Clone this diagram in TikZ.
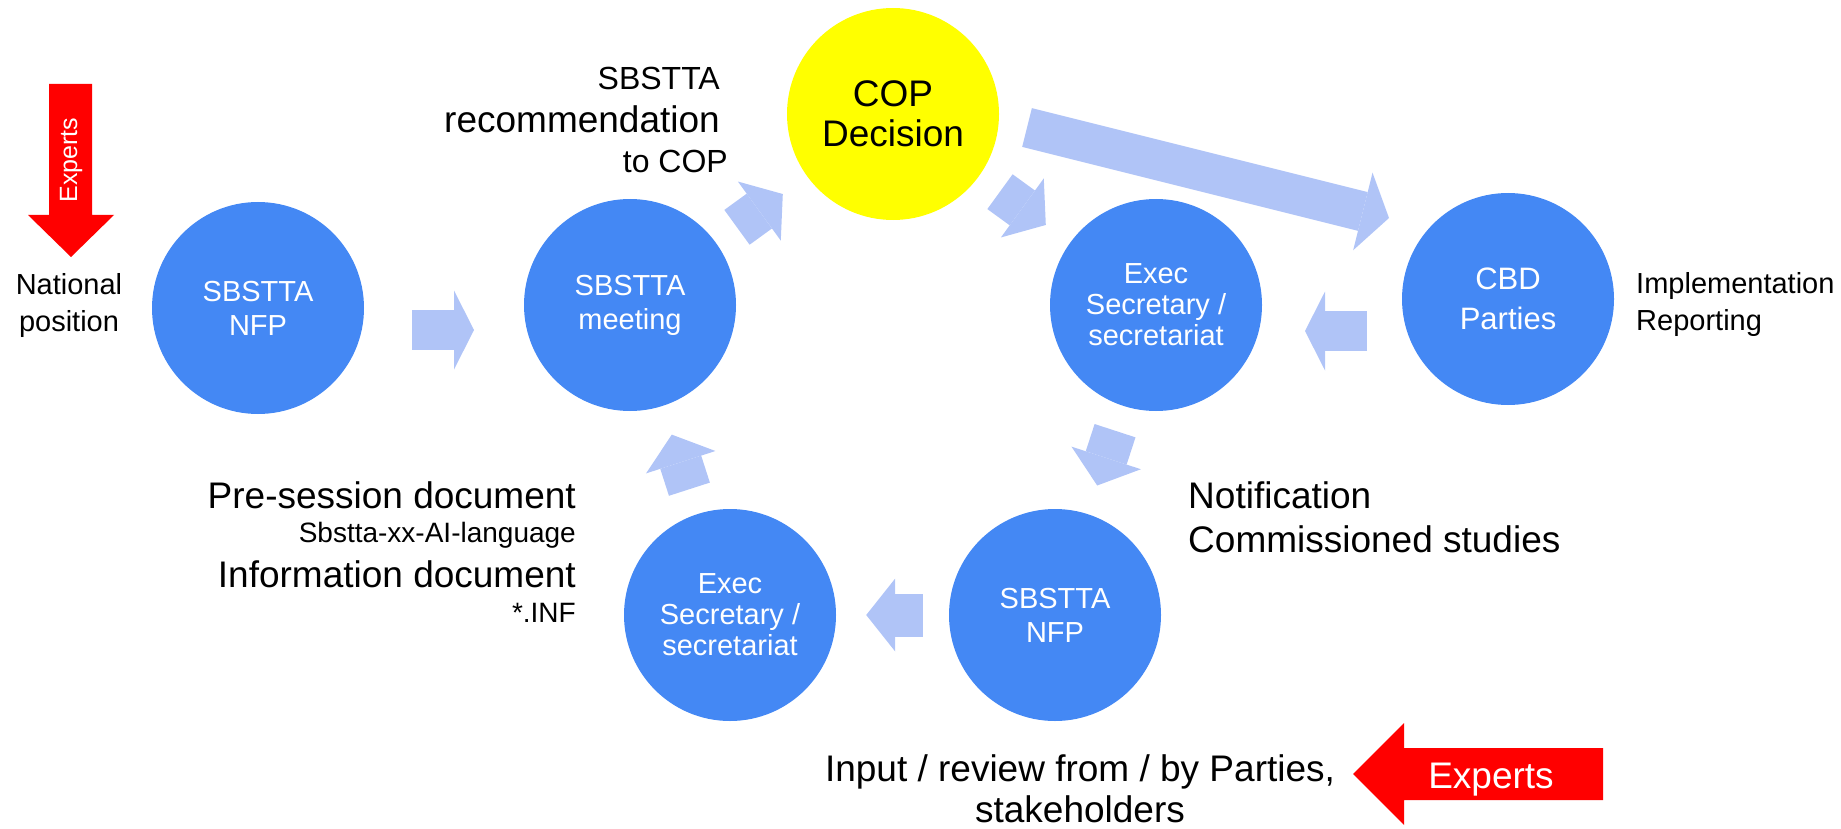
\documentclass[tikz,border=0pt]{standalone}
\usepackage{fontspec}
\setmainfont{Liberation Sans}
\usetikzlibrary{arrows.meta}

\definecolor{bodyblue}{RGB}{68,136,244}
\definecolor{flowblue}{RGB}{176,196,247}
\definecolor{copyellow}{RGB}{255,255,0}

\tikzset{
    body/.style={circle, fill=bodyblue, minimum size=212pt, inner sep=0pt,
        text=white, align=center, font=\fontsize{29}{34}\selectfont},
    flow/.style={draw=flowblue, line width=43pt,
        -{Triangle[length=29pt, width=73pt, line width=0pt]},
        shorten <=26pt, shorten >=30pt},
    sideflow/.style={draw=flowblue, line width=40pt,
        -{Triangle[length=20pt, width=79pt, line width=0pt]}},
    bigflow/.style={draw=flowblue, line width=40pt,
        -{Triangle[length=27pt, width=80pt, line width=0pt]}},
    bigtxt/.style={font=\fontsize{37}{44}\selectfont},
    midtxt/.style={font=\fontsize{32}{40}\selectfont},
    smalltxt/.style={font=\fontsize{28}{34}\selectfont},
    sidetxt/.style={font=\fontsize{29}{37}\selectfont},
}

\begin{document}
\begin{tikzpicture}[x=1pt, y=-1pt]
    \useasboundingbox (0,0) rectangle (1841,829);

    % Circles
    \node[body] (nfp1) at (258,308) {SBSTTA\\NFP};
    \node[body] (meet) at (630,305) {SBSTTA\\meeting};
    \node[body, fill=copyellow, text=black, font=\fontsize{37}{40}\selectfont] (cop) at (893,114) {COP\\Decision};
    \node[body, font=\fontsize{29}{31}\selectfont] (exec1) at (1156,305) {Exec\\Secretary /\\secretariat};
    \node[body, font=\fontsize{31}{40}\selectfont] (parties) at (1508,299) {CBD\\Parties};
    \node[body] (nfp2) at (1055,615) {SBSTTA\\NFP};
    \node[body, font=\fontsize{29}{31}\selectfont] (exec2) at (730,615) {Exec\\Secretary /\\secretariat};

    % Flow arrows
    \foreach \a/\b in {meet/cop, cop/exec1, exec1/nfp2, nfp2/exec2, exec2/meet}
        \draw[flow] (\a) -- (\b);
    \draw[sideflow] ([shift={(154,22)}]nfp1.center) -- ([shift={(-156,25)}]meet.center);
    \draw[sideflow] ([shift={(-141,32)}]parties.center) -- ([shift={(149,26)}]exec1.center);
    \draw[bigflow] ([shift={(134,13.5)}]cop.center) -- ([shift={(-119,-81)}]parties.center);

    % Experts arrows
    \fill[red] (49,84) -- (92,84) -- (92,215) -- (114,215) -- (71,257)
        -- (28,215) -- (49,215) -- cycle;
    \node[text=white, rotate=90, font=\fontsize{25}{30}\selectfont] (exptop) at (71,160) {Experts};
    \fill[red] (1603,748) -- (1404,748) -- (1404,723) -- (1353,774)
        -- (1404,825) -- (1404,800) -- (1603,800) -- cycle;
    \node[bigtxt, text=white, anchor=base] (expbot) at (1491,788) {Experts};

    % Labels
    \node[sidetxt, align=center] (natpos) at (69,306) {National\\position};
    \node[midtxt, anchor=base east, inner sep=0pt] (rec1) at (720,90) {SBSTTA};
    \node[bigtxt, anchor=base east, inner sep=0pt] (rec2) at (720,133) {recommendation};
    \node[midtxt, anchor=base east, inner sep=0pt] (rec3) at (728,173) {to COP};
    \node[sidetxt, anchor=base west, inner sep=0pt] (impl) at (1636,293) {Implementation};
    \node[sidetxt, anchor=base west, inner sep=0pt] (rep) at (1636,330) {Reporting};
    \node[bigtxt, anchor=base east, inner sep=0pt] (pre) at (576,508) {Pre-session document};
    \node[smalltxt, anchor=base east, inner sep=0pt] (sbs) at (576,542) {Sbstta-xx-AI-language};
    \node[bigtxt, anchor=base east, inner sep=0pt] (info) at (576,587) {Information document};
    \node[smalltxt, anchor=base east, inner sep=0pt] (inf) at (576,622) {*.INF};
    \node[bigtxt, anchor=base west, inner sep=0pt] (notif) at (1188,508) {Notification};
    \node[bigtxt, anchor=base west, inner sep=0pt] (comm) at (1188,552) {Commissioned studies};
    \node[bigtxt, anchor=base, inner sep=0pt] (input) at (1080,781) {Input / review from / by Parties,};
    \node[bigtxt, anchor=base, inner sep=0pt] (stake) at (1080,822) {stakeholders};
\end{tikzpicture}
\end{document}
